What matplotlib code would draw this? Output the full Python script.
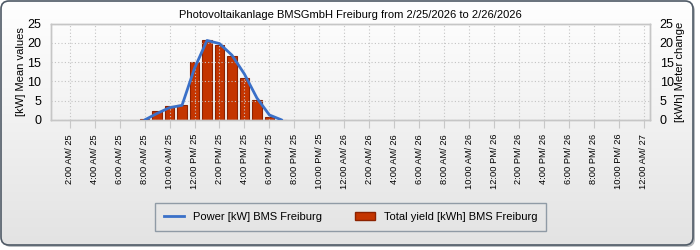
import matplotlib
matplotlib.use("Agg")
import matplotlib.pyplot as plt
import numpy as np
from matplotlib.patches import FancyBboxPatch, Patch
from matplotlib.lines import Line2D
from matplotlib.colors import LinearSegmentedColormap

# ---- data ----
title = "Photovoltaikanlage BMSGmbH Freiburg from 2/25/2026 to 2/26/2026"
bar_hours = [8, 9, 10, 11, 12, 13, 14, 15, 16, 17, 18, 19]
yield_kwh = [0.2, 2.3, 3.6, 3.9, 15.1, 20.7, 19.5, 16.6, 10.9, 5.2, 0.8, 0.1]
line_hours = [8, 9, 10, 11, 12, 13, 14, 15, 16, 17, 18, 19]
power_kw = [0.0, 1.7, 3.2, 3.8, 13.4, 20.6, 19.8, 16.8, 11.9, 5.7, 1.3, 0.0]
tick_hours = list(range(2, 50, 2))
tick_labels = [
    "2:00 AM/ 25", "4:00 AM/ 25", "6:00 AM/ 25", "8:00 AM/ 25", "10:00 AM/ 25",
    "12:00 PM/ 25", "2:00 PM/ 25", "4:00 PM/ 25", "6:00 PM/ 25", "8:00 PM/ 25",
    "10:00 PM/ 25", "12:00 AM/ 26", "2:00 AM/ 26", "4:00 AM/ 26", "6:00 AM/ 26",
    "8:00 AM/ 26", "10:00 AM/ 26", "12:00 PM/ 26", "2:00 PM/ 26", "4:00 PM/ 26",
    "6:00 PM/ 26", "8:00 PM/ 26", "10:00 PM/ 26", "12:00 AM/ 27",
]
y_ticks = [0, 5, 10, 15, 20, 25]
line_label = "Power [kW] BMS Freiburg"
bar_label = "Total yield [kWh] BMS Freiburg"

plt.rcParams["font.family"] = ["Liberation Sans", "DejaVu Sans"]

fig = plt.figure(figsize=(7, 2.5), dpi=100)
fig.patch.set_facecolor("white")

# background gradient + rounded frame
bg = fig.add_axes([0, 0, 1, 1], zorder=-10)
bg.set_xlim(0, 700)
bg.set_ylim(250, 0)
bg.axis("off")
grad = np.linspace(0, 1, 256).reshape(-1, 1)
cmap = LinearSegmentedColormap.from_list("g", ["#ffffff", "#e3e3e3"])
shadow = FancyBboxPatch((3, 3), 692, 244, boxstyle="round,pad=0,rounding_size=8",
                        fc="#b8bcc0", ec="none", zorder=0)
bg.add_patch(shadow)
im = bg.imshow(grad, extent=[1, 693, 245, 1], cmap=cmap, aspect="auto", zorder=1)
clip = FancyBboxPatch((1, 1), 692, 244, boxstyle="round,pad=0,rounding_size=8",
                      fc="none", ec="none", transform=bg.transData)
bg.add_patch(clip)
im.set_clip_path(clip)
frame = FancyBboxPatch((1, 1), 692, 244, boxstyle="round,pad=0,rounding_size=8",
                       fc="none", ec="#4f5a66", lw=1.2, zorder=3)
bg.add_patch(frame)

ax = fig.add_axes([51 / 700, 1 - 120 / 250, 599 / 700, 96.5 / 250])
ax.set_facecolor("none")
ax2 = ax.twinx()

ax2.bar(bar_hours, yield_kwh, width=0.78, color="#c43500", edgecolor="#8c2200",
        linewidth=0.8, zorder=2)
ax2.set_zorder(1)
ax.set_zorder(2)
ax.plot(line_hours, power_kw, color="#3a70c8", lw=2.0, zorder=3,
        solid_joinstyle="round", solid_capstyle="round")

for a in (ax, ax2):
    a.set_xlim(0.5, 48.5)
    a.set_ylim(0, 25)
    a.set_yticks(y_ticks)
    for s in a.spines.values():
        s.set_color("#c6c6c6")
        s.set_linewidth(1.0)

ax.set_xticks(tick_hours)
ax.set_xticklabels(tick_labels, rotation=90, fontsize=6.7, va="top")
ax.tick_params(axis="x", length=6, color="#c8c8c8", pad=4)
ax.tick_params(axis="y", length=0, labelsize=9, pad=7)
ax2.tick_params(axis="y", length=0, labelsize=9, pad=7)
ax.grid(True, color="#c4c4c4", linestyle=(0, (1, 2)), lw=0.8)
ax.set_axisbelow(True)

ax.set_ylabel("[kW] Mean values", fontsize=8, labelpad=1)
ax2.set_ylabel("[kWh] Meter change", fontsize=8, labelpad=1, rotation=90)

fig.text(350 / 700, 1 - 15 / 250, title, ha="center", va="center", fontsize=8)

handles = [Line2D([0], [0], color="#3a70c8", lw=2),
           Patch(facecolor="#c43500", edgecolor="#8c2200")]
leg = fig.legend(handles, [line_label, bar_label], ncol=2,
                 loc="center", bbox_to_anchor=(350.5 / 700, 1 - 217 / 250),
                 fontsize=8, frameon=True, fancybox=False,
                 edgecolor="#7a8896", facecolor="none", columnspacing=3.0,
                 handlelength=1.8, handletextpad=0.8, borderpad=0.8)
leg.get_frame().set_linewidth(1.0)

fig.savefig("out.png", dpi=100)
